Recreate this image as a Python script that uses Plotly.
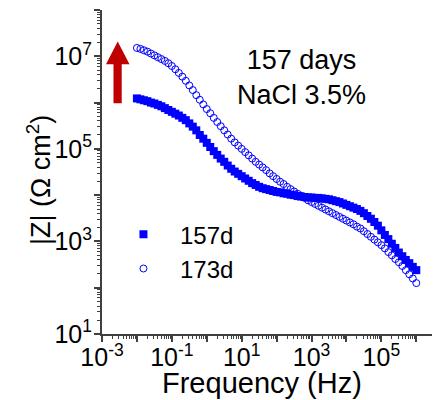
import plotly.graph_objects as go

# log10 of frequency (Hz), 10 points per decade from 0.01 Hz to 1 MHz
log_freq = [-2.0, -1.9, -1.8, -1.7, -1.6, -1.5, -1.4, -1.3, -1.2, -1.1,
            -1.0, -0.9, -0.8, -0.7, -0.6, -0.5, -0.4, -0.3, -0.2, -0.1,
            0.0, 0.1, 0.2, 0.3, 0.4, 0.5, 0.6, 0.7, 0.8, 0.9,
            1.0, 1.1, 1.2, 1.3, 1.4, 1.5, 1.6, 1.7, 1.8, 1.9,
            2.0, 2.1, 2.2, 2.3, 2.4, 2.5, 2.6, 2.7, 2.8, 2.9,
            3.0, 3.1, 3.2, 3.3, 3.4, 3.5, 3.6, 3.7, 3.8, 3.9,
            4.0, 4.1, 4.2, 4.3, 4.4, 4.5, 4.6, 4.7, 4.8, 4.9,
            5.0, 5.1, 5.2, 5.3, 5.4, 5.5, 5.6, 5.7, 5.8, 5.9, 6.0]

# log10 |Z| (Ohm cm^2), 157 days
log_z_157d = [6.09, 6.07, 6.05, 6.03, 6.00, 5.98, 5.95, 5.92, 5.88, 5.84,
              5.80, 5.76, 5.72, 5.67, 5.62, 5.55, 5.48, 5.40, 5.30, 5.22,
              5.13, 5.04, 4.95, 4.87, 4.79, 4.72, 4.64, 4.57, 4.51, 4.46,
              4.41, 4.36, 4.31, 4.26, 4.22, 4.18, 4.15, 4.13, 4.11, 4.09,
              4.07, 4.06, 4.04, 4.03, 4.01, 4.00, 3.98, 3.97, 3.96, 3.95,
              3.95, 3.94, 3.94, 3.93, 3.92, 3.91, 3.89, 3.87, 3.85, 3.82,
              3.79, 3.76, 3.73, 3.70, 3.66, 3.61, 3.55, 3.49, 3.42, 3.34,
              3.24, 3.14, 3.05, 2.95, 2.86, 2.76, 2.68, 2.60, 2.53, 2.45, 2.38]

# log10 |Z| (Ohm cm^2), 173 days
log_z_173d = [7.18, 7.16, 7.13, 7.10, 7.06, 7.02, 6.98, 6.94, 6.90, 6.85,
              6.79, 6.72, 6.64, 6.56, 6.47, 6.37, 6.27, 6.16, 6.06, 5.96,
              5.86, 5.77, 5.67, 5.58, 5.49, 5.40, 5.31, 5.22, 5.14, 5.07,
              5.00, 4.93, 4.86, 4.79, 4.72, 4.66, 4.60, 4.54, 4.47, 4.41,
              4.35, 4.29, 4.24, 4.18, 4.13, 4.08, 4.03, 3.99, 3.94, 3.89,
              3.85, 3.81, 3.77, 3.73, 3.69, 3.65, 3.61, 3.57, 3.53, 3.49,
              3.45, 3.41, 3.37, 3.32, 3.28, 3.22, 3.16, 3.10, 3.04, 2.98,
              2.92, 2.85, 2.77, 2.70, 2.62, 2.55, 2.47, 2.38, 2.29, 2.20, 2.10]

series_names = ["157d", "173d"]

x_decades = [-3, -2, -1, 0, 1, 2, 3, 4, 5, 6]
x_tick_labels = ["10<sup>-3</sup>", "", "10<sup>-1</sup>", "", "10<sup>1</sup>", "",
                 "10<sup>3</sup>", "", "10<sup>5</sup>", ""]
y_decades = [1, 2, 3, 4, 5, 6, 7, 8]
y_tick_labels = ["10<sup>1</sup>", "", "10<sup>3</sup>", "", "10<sup>5</sup>", "",
                 "10<sup>7</sup>", ""]

FONT = "Arial, Liberation Sans, sans-serif"
BLUE = "#0000FF"

freq = [10 ** v for v in log_freq]
z157 = [10 ** v for v in log_z_157d]
z173 = [10 ** v for v in log_z_173d]

fig = go.Figure()
fig.add_trace(go.Scatter(x=freq, y=z157, mode="markers", name=series_names[0],
                         marker=dict(symbol="square", size=8, color=BLUE,
                                     line=dict(width=0))))
fig.add_trace(go.Scatter(x=freq, y=z173, mode="markers", name=series_names[1],
                         marker=dict(symbol="circle-open", size=7, color=BLUE,
                                     line=dict(width=1, color=BLUE))))

def minor_vals(decades):
    out = []
    for d in decades[:-1]:
        for m in range(2, 10):
            out.append(m * 10 ** d)
    return out

axis_common = dict(type="log", showgrid=False, zeroline=False, showline=True,
                   linecolor="#404040", linewidth=2, ticks="outside",
                   ticklen=6, tickwidth=1.5, tickcolor="#404040",
                   tickfont=dict(family=FONT, size=25, color="black"),
                   mirror=False, automargin=False)

fig.update_xaxes(**axis_common, range=[-3, 6.45], tickmode="array",
                 tickvals=[10 ** d for d in x_decades], ticktext=x_tick_labels,
                 ticklabelstandoff=-6,
                 minor=dict(ticks="outside", ticklen=3, tickwidth=1, tickcolor="#404040",
                            tickmode="array", tickvals=minor_vals(x_decades)))
fig.update_yaxes(**axis_common, range=[1, 8], tickmode="array",
                 tickvals=[10 ** d for d in y_decades], ticktext=y_tick_labels,
                 ticklabelstandoff=-3,
                 minor=dict(ticks="outside", ticklen=3, tickwidth=1, tickcolor="#404040",
                            tickmode="array", tickvals=minor_vals(y_decades)))

# axis titles
fig.add_annotation(xref="paper", yref="paper", x=0.485, y=-0.150,
                   text="Frequency (Hz)", showarrow=False,
                   font=dict(family=FONT, size=29, color="black"),
                   xanchor="center", yanchor="middle")
fig.add_annotation(xref="paper", yref="paper", x=-0.191, y=0.475,
                   text="|Z| (\u03a9 cm<sup>2</sup>)", showarrow=False, textangle=-90,
                   font=dict(family=FONT, size=27, color="black"),
                   xanchor="center", yanchor="middle")

# red arrow (paper coordinates)
arrow_path = ("M 0.0348 0.7120 L 0.0348 0.8324 L 0.0121 0.8324 L 0.0476 0.9028 "
              "L 0.0833 0.8324 L 0.0597 0.8324 L 0.0597 0.7120 Z")
fig.add_shape(type="path", xref="paper", yref="paper", path=arrow_path,
              fillcolor="#C00000", line=dict(width=0))

fig.add_annotation(xref="paper", yref="paper", x=0.606, y=0.793,
                   text="157 days<br>NaCl 3.5%", showarrow=False,
                   font=dict(family=FONT, size=27, color="black"),
                   xanchor="center", yanchor="middle")

fig.update_layout(
    width=436, height=400,
    margin=dict(l=102, r=4, t=10, b=66),
    paper_bgcolor="white", plot_bgcolor="white",
    showlegend=True,
    legend=dict(x=0.015, y=0.254, xanchor="left", yanchor="middle",
                font=dict(family=FONT, size=24, color="black"),
                bgcolor="rgba(0,0,0,0)", itemwidth=63, tracegroupgap=0),
)

fig.write_html("out.html", config={"displayModeBar": False},
               post_script="document.body.style.margin='0';")
